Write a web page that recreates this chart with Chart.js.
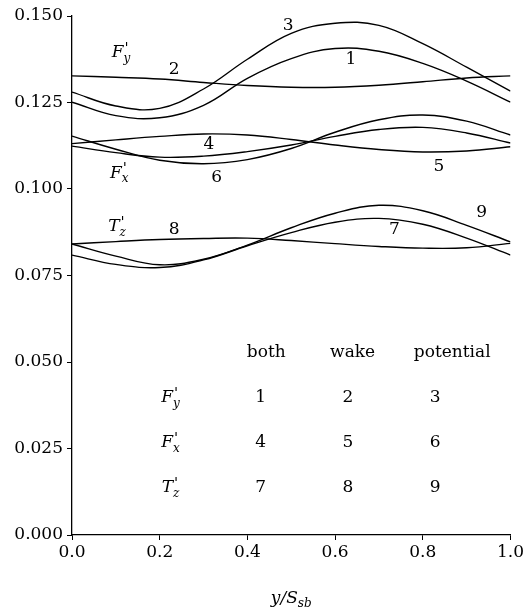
<!DOCTYPE html>
<html>
<head>
<meta charset="utf-8">
<script src="https://cdn.jsdelivr.net/npm/chart.js@4.4.1/dist/chart.umd.min.js"></script>
<style>
    html, body { margin: 0; padding: 0; background: #fff; }
    #wrap { width: 526px; height: 608px; }
</style>
</head>
<body>
<div id="wrap"><canvas id="chart" width="526" height="608"></canvas></div>
<script>
// Posición a lo largo de la envergadura (y/S_sb)
const xGrid = [0, 0.1, 0.2, 0.3, 0.4, 0.5, 0.6, 0.7, 0.8, 0.9, 1.0];

// F'y : both / wake / potential  (curvas 1, 2, 3)
const fyBoth      = [0.1251, 0.1212, 0.1206, 0.1242, 0.1320, 0.1377, 0.1406, 0.1398, 0.1363, 0.1312, 0.1251];
const fyWake      = [0.1327, 0.1323, 0.1318, 0.1308, 0.1299, 0.1294, 0.1294, 0.1300, 0.1310, 0.1321, 0.1327];
const fyPotential = [0.1280, 0.1240, 0.1233, 0.1289, 0.1375, 0.1450, 0.1479, 0.1473, 0.1420, 0.1352, 0.1283];

// F'x : both / wake / potential  (curvas 4, 5, 6)
const fxBoth      = [0.1124, 0.1105, 0.1092, 0.1095, 0.1108, 0.1127, 0.1152, 0.1172, 0.1178, 0.1162, 0.1133];
const fxWake      = [0.1131, 0.1142, 0.1152, 0.1159, 0.1156, 0.1143, 0.1127, 0.1114, 0.1107, 0.1110, 0.1122];
const fxPotential = [0.1153, 0.1115, 0.1083, 0.1073, 0.1085, 0.1117, 0.1164, 0.1200, 0.1214, 0.1196, 0.1156];

// T'z : both / wake / potential  (curvas 7, 8, 9)
const tzBoth      = [0.0809, 0.0782, 0.0773, 0.0795, 0.0836, 0.0874, 0.0904, 0.0915, 0.0898, 0.0858, 0.0809];
const tzWake      = [0.0841, 0.0848, 0.0854, 0.0857, 0.0858, 0.0851, 0.0842, 0.0834, 0.0829, 0.0830, 0.0843];
const tzPotential = [0.0841, 0.0806, 0.0781, 0.0797, 0.0838, 0.0888, 0.0930, 0.0953, 0.0937, 0.0895, 0.0847];

const seriesList = [fyBoth, fyWake, fyPotential, fxBoth, fxWake, fxPotential, tzBoth, tzWake, tzPotential];
const seriesNames = ['1', '2', '3', '4', '5', '6', '7', '8', '9'];

// Marcas de los ejes
const xTicks = [0, 0.2, 0.4, 0.6, 0.8, 1.0];
const yTicks = [0, 0.025, 0.05, 0.075, 0.1, 0.125, 0.15];

// Etiquetas de curva (en coordenadas de datos)
const curveLabels = [
    { t: '3', x: 0.493, y: 0.1471 },
    { t: '1', x: 0.636, y: 0.1373 },
    { t: '2', x: 0.233, y: 0.1344 },
    { t: '4', x: 0.312, y: 0.1127 },
    { t: '5', x: 0.837, y: 0.1064 },
    { t: '6', x: 0.330, y: 0.1032 },
    { t: '8', x: 0.233, y: 0.0882 },
    { t: '7', x: 0.735, y: 0.0882 },
    { t: '9', x: 0.934, y: 0.0931 }
];
const symLabels = [
    { b: 'F', s: 'y', x: 0.113, y: 0.1393 },
    { b: 'F', s: 'x', x: 0.109, y: 0.1046 },
    { b: 'T', s: 'z', x: 0.104, y: 0.0890 }
];

// Tabla de leyenda
const tableHeaders = [
    { t: 'both', x: 0.443 },
    { t: 'wake', x: 0.640 },
    { t: 'potential', x: 0.867 }
];
const tableHeaderY = 0.0526;
const tableRowsY = [0.0396, 0.0266, 0.0136];
const tableSymbols = [['F', 'y'], ['F', 'x'], ['T', 'z']];
const tableColsX = [0.430, 0.629, 0.828];
const tableSymX = 0.226;

const FONT = 'DejaVu Serif';

// Dibuja símbolo tipo F'_y centrado en (cx, cy)
function drawSymbol(ctx, base, sub, cx, cy) {
    ctx.font = 'italic 17px "' + FONT + '"';
    const wBase = ctx.measureText(base).width;
    ctx.font = 'italic 12px "' + FONT + '"';
    const wSub = ctx.measureText(sub).width;
    const total = wBase + wSub + 1;
    const x0 = cx - total / 2;
    ctx.textAlign = 'left';
    ctx.textBaseline = 'middle';
    ctx.font = 'italic 17px "' + FONT + '"';
    ctx.fillText(base, x0, cy);
    ctx.font = 'italic 15px "' + FONT + '"';
    ctx.fillText('\'', x0 + wBase + 1, cy - 4);
    ctx.font = 'italic 12px "' + FONT + '"';
    ctx.fillText(sub, x0 + wBase, cy + 6);
}

const textPlugin = {
    id: 'textLabels',
    afterDatasetsDraw(chart) {
        const ctx = chart.ctx;
        const xs = chart.scales.x;
        const ys = chart.scales.y;
        ctx.save();
        ctx.fillStyle = '#000';

        // Números de curva
        ctx.font = '17px "' + FONT + '"';
        ctx.textAlign = 'center';
        ctx.textBaseline = 'middle';
        curveLabels.forEach(l => {
            ctx.fillText(l.t, xs.getPixelForValue(l.x), ys.getPixelForValue(l.y));
        });

        // Símbolos junto a las curvas
        symLabels.forEach(l => {
            drawSymbol(ctx, l.b, l.s, xs.getPixelForValue(l.x), ys.getPixelForValue(l.y));
        });

        // Tabla
        ctx.font = '17px "' + FONT + '"';
        ctx.textAlign = 'center';
        tableHeaders.forEach(h => {
            ctx.fillText(h.t, xs.getPixelForValue(h.x), ys.getPixelForValue(tableHeaderY));
        });
        tableRowsY.forEach((ry, r) => {
            const py = ys.getPixelForValue(ry);
            drawSymbol(ctx, tableSymbols[r][0], tableSymbols[r][1], xs.getPixelForValue(tableSymX), py);
            ctx.font = '17px "' + FONT + '"';
            ctx.textAlign = 'center';
            ctx.textBaseline = 'middle';
            tableColsX.forEach((cx, c) => {
                ctx.fillText(seriesNames[r * 3 + c], xs.getPixelForValue(cx), py);
            });
        });

        // Título del eje x: y/S_sb
        const area = chart.chartArea;
        const cx = (area.left + area.right) / 2;
        const cy = 599;
        ctx.font = 'italic 17px "' + FONT + '"';
        const wMain = ctx.measureText('y/S').width;
        ctx.font = 'italic 12px "' + FONT + '"';
        const wSub = ctx.measureText('sb').width;
        const x0 = cx - (wMain + wSub) / 2;
        ctx.textAlign = 'left';
        ctx.font = 'italic 17px "' + FONT + '"';
        ctx.fillText('y/S', x0, cy);
        ctx.font = 'italic 12px "' + FONT + '"';
        ctx.fillText('sb', x0 + wMain, cy + 5);

        ctx.restore();
    }
};

const datasets = seriesList.map((arr, i) => ({
    label: seriesNames[i],
    data: xGrid.map((x, k) => ({ x: x, y: arr[k] })),
    borderColor: '#000',
    borderWidth: 1.4,
    pointRadius: 0,
    tension: 0.4,
    fill: false
}));

const tickFont = { family: FONT, size: 17 };

new Chart(document.getElementById('chart'), {
    type: 'line',
    data: { datasets: datasets },
    options: {
        responsive: false,
        animation: false,
        devicePixelRatio: 1,
        layout: { padding: { top: 16, right: 13, left: 0, bottom: 0 } },
        plugins: {
            legend: { display: false },
            tooltip: { enabled: false }
        },
        scales: {
            x: {
                type: 'linear',
                min: 0,
                max: 1,
                afterBuildTicks: s => { s.ticks = xTicks.map(v => ({ value: v })); },
                afterFit: s => { s.height = 73; },
                ticks: {
                    color: '#000',
                    font: tickFont,
                    padding: 2,
                    maxRotation: 0,
                    callback: v => Number(v).toFixed(1)
                },
                grid: { drawOnChartArea: false, drawTicks: true, tickLength: 5, color: '#000', lineWidth: 1 },
                border: { color: '#000', width: 1.3 }
            },
            y: {
                type: 'linear',
                min: 0,
                max: 0.15,
                afterBuildTicks: s => { s.ticks = yTicks.map(v => ({ value: v })); },
                afterFit: s => { s.width = 72; },
                ticks: {
                    color: '#000',
                    font: tickFont,
                    padding: 4,
                    callback: v => Number(v).toFixed(3)
                },
                grid: { drawOnChartArea: false, drawTicks: true, tickLength: 5, color: '#000', lineWidth: 1 },
                border: { color: '#000', width: 1.3 }
            }
        }
    },
    plugins: [textPlugin]
});
</script>
</body>
</html>
